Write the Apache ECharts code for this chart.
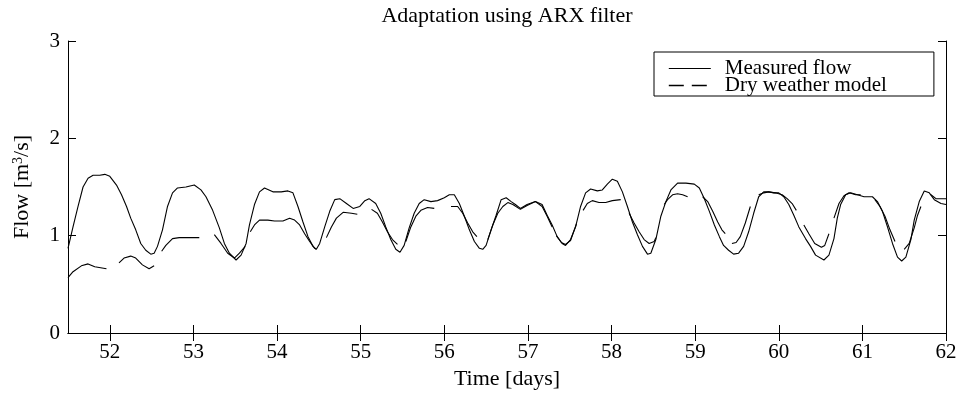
<!DOCTYPE html>
<html>
<head>
<meta charset="utf-8">
<script src="https://cdn.jsdelivr.net/npm/echarts@6/dist/echarts.min.js"></script>
<style>
html,body{margin:0;padding:0;background:#fff;}
#chart{width:961px;height:399px;}
</style>
</head>
<body>
<div id="chart"></div>
<script>
const chartTitle = 'Adaptation using ARX filter';
const xTickValues = [52, 53, 54, 55, 56, 57, 58, 59, 60, 61, 62];
const yTickValues = [0, 1, 2, 3];
const seriesNames = ['Measured flow', 'Dry weather model'];

const measuredTime = [51.50,51.56,51.62,51.68,51.74,51.80,51.88,51.94,52.00,52.08,52.14,52.20,52.25,52.31,52.37,52.43,52.49,52.53,52.57,52.63,52.69,52.75,52.81,52.91,53.01,53.09,53.15,53.23,53.31,53.37,53.43,53.51,53.57,53.63,53.67,53.73,53.79,53.85,53.95,54.05,54.13,54.19,54.25,54.31,54.37,54.43,54.47,54.51,54.57,54.63,54.69,54.75,54.83,54.91,54.99,55.05,55.10,55.18,55.24,55.30,55.36,55.42,55.47,55.52,55.58,55.64,55.70,55.76,55.84,55.92,56.00,56.06,56.12,56.18,56.24,56.30,56.36,56.42,56.46,56.50,56.56,56.62,56.68,56.74,56.80,56.85,56.91,56.99,57.09,57.17,57.23,57.29,57.35,57.41,57.45,57.51,57.57,57.63,57.69,57.75,57.83,57.89,57.95,58.01,58.07,58.13,58.19,58.25,58.31,58.37,58.43,58.47,58.53,58.59,58.65,58.71,58.79,58.89,58.99,59.05,59.11,59.17,59.23,59.29,59.34,59.40,59.46,59.52,59.58,59.64,59.70,59.76,59.82,59.88,59.94,60.00,60.06,60.12,60.18,60.24,60.32,60.38,60.44,60.54,60.60,60.66,60.70,60.74,60.80,60.86,60.94,61.02,61.12,61.18,61.24,61.30,61.36,61.42,61.47,61.52,61.58,61.62,61.68,61.74,61.80,61.86,61.94,62.00];
const measuredFlow = [0.87,1.09,1.30,1.50,1.59,1.62,1.62,1.63,1.61,1.52,1.42,1.30,1.18,1.06,0.92,0.85,0.81,0.82,0.89,1.06,1.30,1.44,1.49,1.50,1.52,1.47,1.40,1.26,1.08,0.92,0.82,0.75,0.80,0.92,1.11,1.32,1.45,1.49,1.45,1.45,1.46,1.44,1.30,1.14,0.99,0.89,0.86,0.92,1.09,1.25,1.37,1.38,1.33,1.28,1.30,1.36,1.38,1.33,1.23,1.09,0.96,0.86,0.83,0.90,1.08,1.23,1.33,1.37,1.35,1.36,1.39,1.42,1.42,1.33,1.20,1.06,0.94,0.87,0.86,0.90,1.06,1.21,1.37,1.39,1.35,1.32,1.28,1.32,1.35,1.32,1.21,1.11,0.99,0.92,0.90,0.96,1.09,1.30,1.44,1.48,1.46,1.47,1.53,1.58,1.56,1.45,1.30,1.14,1.01,0.89,0.81,0.82,0.96,1.20,1.35,1.47,1.54,1.54,1.53,1.49,1.38,1.25,1.11,0.99,0.90,0.85,0.81,0.82,0.89,1.04,1.23,1.40,1.45,1.45,1.44,1.44,1.40,1.32,1.21,1.09,0.97,0.89,0.80,0.75,0.80,0.97,1.18,1.32,1.42,1.44,1.42,1.40,1.40,1.35,1.25,1.09,0.92,0.78,0.74,0.78,0.96,1.16,1.35,1.46,1.44,1.37,1.33,1.32];

// model segments separated by null (gaps)
const modelTime = [51.50,51.56,51.66,51.74,51.82,51.96,null,
52.11,52.17,52.25,52.31,52.39,52.47,52.53,null,
52.62,52.67,52.75,52.83,53.07,null,
53.25,53.33,53.41,53.49,53.55,53.62,null,
53.68,53.73,53.79,53.89,53.97,54.07,54.15,54.21,54.27,54.33,54.39,54.45,54.47,null,
54.59,54.65,54.71,54.79,54.89,54.96,null,
55.13,55.20,55.26,55.32,55.38,55.44,null,
55.54,55.60,55.66,55.72,55.80,55.88,null,
56.08,56.16,56.22,56.28,56.34,56.39,null,
56.52,56.58,56.64,56.70,56.76,56.82,56.91,56.99,57.09,57.17,57.23,57.29,null,
57.34,57.40,57.45,57.51,57.58,null,
57.66,57.71,57.77,57.85,57.93,58.01,58.11,null,
58.21,58.27,58.33,58.39,58.45,58.51,58.53,null,
58.63,58.67,58.73,58.79,58.85,58.91,null,
59.09,59.15,59.21,59.27,59.32,59.36,null,
59.44,59.49,59.54,59.60,59.66,null,
59.76,59.82,59.88,59.96,60.04,60.10,60.16,60.21,null,
60.30,60.36,60.43,60.51,60.55,60.60,null,
60.66,60.72,60.78,60.84,60.92,60.98,null,
61.15,61.21,61.27,61.33,61.39,null,
61.50,61.56,61.62,61.66,61.70,null,
61.82,61.88,62.00];
const modelFlow = [0.57,0.63,0.69,0.71,0.68,0.66,null,
0.72,0.77,0.79,0.77,0.70,0.66,0.69,null,
0.84,0.90,0.97,0.98,0.98,null,
1.01,0.92,0.82,0.77,0.82,0.89,null,
1.04,1.11,1.16,1.16,1.15,1.15,1.18,1.16,1.11,1.02,0.94,0.87,0.86,null,
0.98,1.09,1.18,1.24,1.23,1.22,null,
1.27,1.23,1.14,1.04,0.96,0.91,null,
0.94,1.09,1.20,1.26,1.29,1.28,null,
1.30,1.30,1.23,1.13,1.04,0.99,null,
0.96,1.11,1.23,1.30,1.34,1.32,1.27,1.31,1.35,1.30,1.20,1.09,null,
1.00,0.93,0.91,0.95,1.12,null,
1.26,1.33,1.36,1.34,1.34,1.36,1.37,null,
1.23,1.13,1.04,0.96,0.92,0.94,0.98,null,
1.32,1.37,1.42,1.43,1.42,1.40,null,
1.40,1.35,1.25,1.14,1.06,1.02,null,
0.92,0.93,0.99,1.13,1.30,null,
1.42,1.44,1.45,1.44,1.42,1.38,1.33,1.26,null,
1.11,1.02,0.92,0.88,0.90,1.02,null,
1.18,1.33,1.41,1.44,1.42,1.42,null,
1.37,1.30,1.20,1.06,0.94,null,
0.86,0.92,1.08,1.21,1.30,null,
1.42,1.38,1.38];

const measuredData = measuredTime.map((t, i) => [t, measuredFlow[i]]);
const modelData = modelTime.map((t, i) => {
  if (modelFlow[i] === null) return [modelTime[i - 1], '-'];
  return [t, modelFlow[i]];
});

const FONT = '"Liberation Serif", "Times New Roman", serif';
const chart = echarts.init(document.getElementById('chart'), null, {renderer: 'canvas'});

const axisLineStyle = {show: true, lineStyle: {color: '#000', width: 1}};
chart.setOption({
  animation: false,
  backgroundColor: '#fff',
  color: ['#000', '#000'],
  title: {
    text: chartTitle,
    left: 507,
    textAlign: 'center',
    top: 5,
    padding: 0,
    textStyle: {fontFamily: FONT, fontSize: 22, fontWeight: 'normal', color: '#000'}
  },
  legend: {
    show: true,
    orient: 'vertical',
    left: 654,
    top: 52,
    padding: [6, 47, 0, 14],
    itemGap: -4,
    itemWidth: 42,
    itemHeight: 14,
    borderColor: '#000',
    borderWidth: 1,
    backgroundColor: '#fff',
    itemStyle: {opacity: 0},
    textStyle: {fontFamily: FONT, fontSize: 21, color: '#000', padding: [0, 0, 0, 9]},
    data: [
      {name: seriesNames[0], itemStyle: {opacity: 0}, lineStyle: {color: '#000', width: 1, type: 'solid'}},
      {name: seriesNames[1], itemStyle: {opacity: 0}, lineStyle: {color: '#000', width: 1.6, type: [15, 8]}}
    ]
  },
  grid: {left: 68, right: 15, top: 41, bottom: 66, containLabel: false},
  xAxis: [{
    type: 'value', position: 'bottom', min: 51.5, max: 62,
    name: 'Time [days]', nameLocation: 'middle', nameGap: 33,
    nameTextStyle: {fontFamily: FONT, fontSize: 22, color: '#000'},
    axisLine: axisLineStyle,
    axisTick: {show: true, inside: true, length: 8, customValues: xTickValues, lineStyle: {color: '#000'}},
    axisLabel: {show: true, customValues: xTickValues, margin: 9, fontFamily: FONT, fontSize: 21, color: '#000'},
    splitLine: {show: false}
  }, {
    type: 'value', position: 'top', min: 51.5, max: 62,
    axisLine: axisLineStyle,
    axisTick: {show: true, inside: true, length: 8, customValues: xTickValues, lineStyle: {color: '#000'}},
    axisLabel: {show: false},
    splitLine: {show: false}
  }],
  yAxis: [{
    type: 'value', position: 'left', min: 0, max: 3, interval: 1,
    name: 'Flow [m{sup|3}/s]', nameLocation: 'middle', nameGap: 35, nameRotate: 90,
    nameTextStyle: {fontFamily: FONT, fontSize: 22, color: '#000',
      rich: {sup: {fontFamily: FONT, fontSize: 14, color: '#000', verticalAlign: 'top', padding: [0, 0, 8, 0]}}},
    axisLine: axisLineStyle,
    axisTick: {show: true, inside: true, length: 8, lineStyle: {color: '#000'}},
    axisLabel: {show: true, margin: 8, fontFamily: FONT, fontSize: 21, color: '#000',
      customValues: yTickValues},
    splitLine: {show: false}
  }, {
    type: 'value', position: 'right', min: 0, max: 3, interval: 1,
    axisLine: axisLineStyle,
    axisTick: {show: true, inside: true, length: 8, lineStyle: {color: '#000'}},
    axisLabel: {show: false},
    splitLine: {show: false}
  }],
  series: [{
    name: seriesNames[0], type: 'line', data: measuredData,
    xAxisIndex: 0, yAxisIndex: 0,
    symbol: 'none', smooth: false, connectNulls: false,
    itemStyle: {color: '#000'},
    lineStyle: {color: '#000', width: 1.1}
  }, {
    name: seriesNames[1], type: 'line', data: modelData,
    xAxisIndex: 0, yAxisIndex: 0,
    symbol: 'none', smooth: false, connectNulls: false,
    itemStyle: {color: '#000'},
    lineStyle: {color: '#000', width: 1.1}
  }]
});
</script>
</body>
</html>
